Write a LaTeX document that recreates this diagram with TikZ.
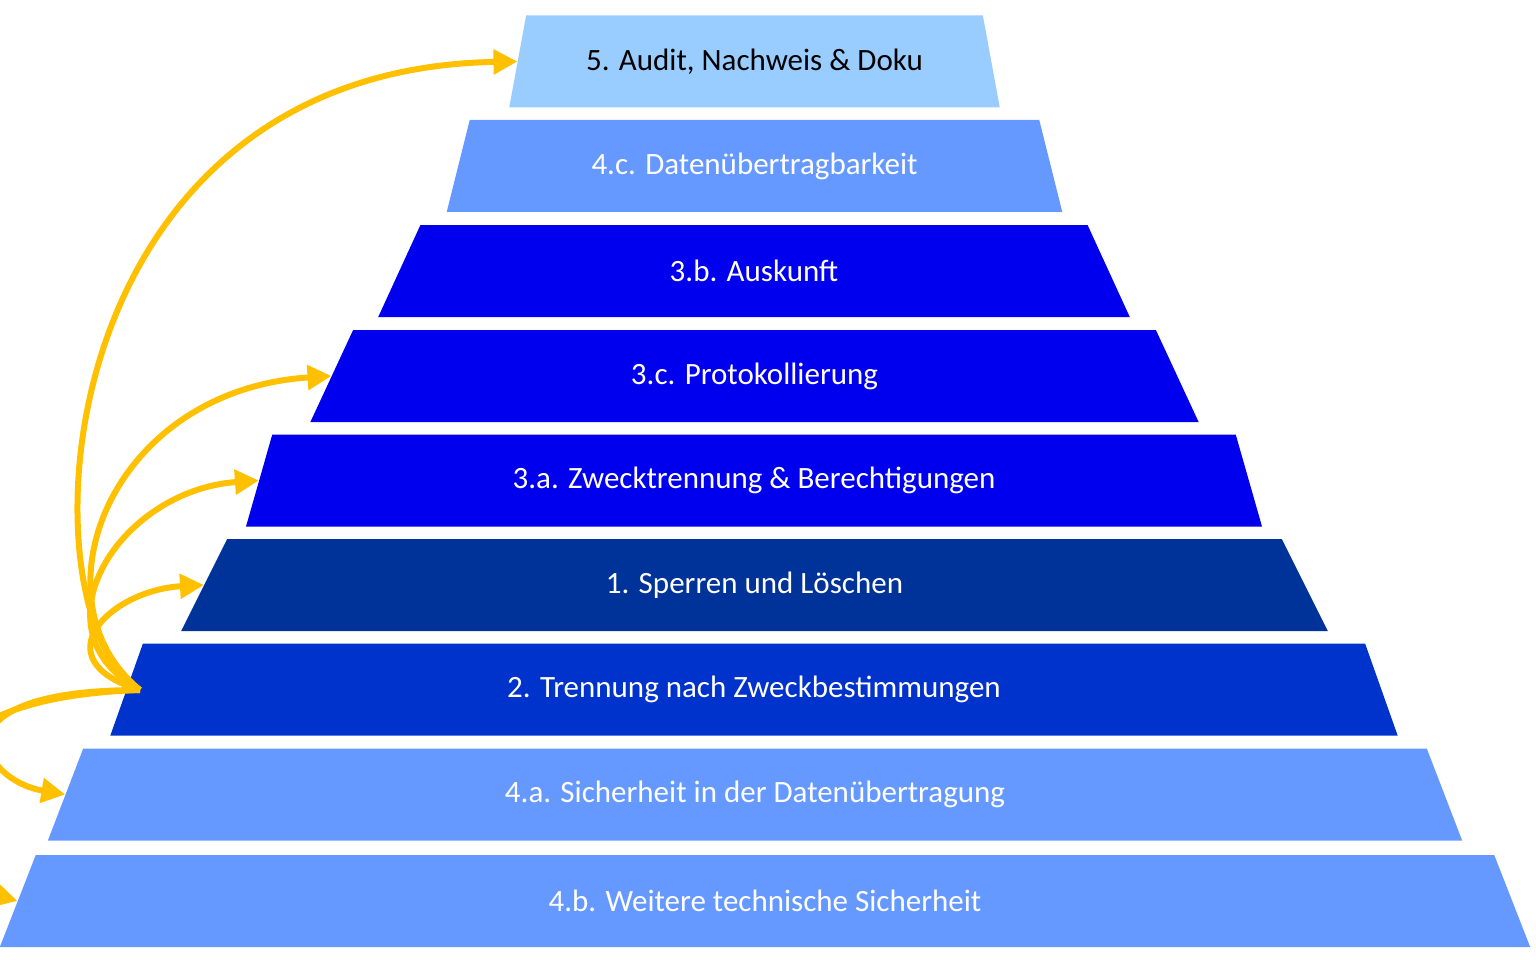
\documentclass[tikz,border=0pt]{standalone}
\usepackage{fontspec}
\setmainfont{Carlito}
\usetikzlibrary{shapes.geometric,arrows.meta}
\definecolor{lightsky}{HTML}{99CCFF}
\definecolor{midblue}{HTML}{6699FF}
\definecolor{pureblue}{HTML}{0000EE}
\definecolor{navyblue}{HTML}{003399}
\definecolor{royalblue}{HTML}{0033CC}
\definecolor{arrowgold}{HTML}{FFC000}
\tikzset{
  layer/.style={trapezium, trapezium stretches=true, trapezium angle=63.9,
    inner sep=0pt, minimum height=92pt, font=\fontsize{31}{31}\selectfont},
  link/.style={draw=arrowgold, line width=6pt,
    -{Triangle[length=24pt,width=24pt]}}
}
\begin{document}
\begin{tikzpicture}[x=1pt,y=-1pt]
  \useasboundingbox (0,0) rectangle (1536,960);
  \foreach \n/\yc/\xl/\xr/\col/\tc/\txt in {
      audit/61.5/509/1000/lightsky/black/{5. Audit, Nachweis \& Doku},
      portab/166/445/1064/midblue/white/{4.c. Datenübertragbarkeit},
      auskunft/271/378/1130/pureblue/white/{3.b. Auskunft},
      protokoll/376/309/1200/pureblue/white/{3.c. Protokollierung},
      zweck/480.5/243/1265/pureblue/white/{3.a. Zwecktrennung \& Berechtigungen},
      sperren/585/179/1330/navyblue/white/{1. Sperren und Löschen},
      trennung/689.5/110/1398/royalblue/white/{2. Trennung nach Zweckbestimmungen},
      sicher/794.5/45/1465/midblue/white/{4.a. Sicherheit in der Datenübertragung},
      weitere/901/-2/1532/midblue/white/{4.b. Weitere technische Sicherheit}}
    \node[layer, fill=\col, text=\tc, minimum width={(\xr-\xl)*1pt}]
      (\n) at ({(\xl+\xr)/2},\yc) {\txt};

  \begin{scope}
    \clip (0,0) rectangle (1536,960);
    \coordinate (src) at (140,690);
    \draw[link] (src) .. controls (20,620) and (40,70) .. (audit.left side);
    \draw[link] (src) .. controls (30,600) and (110,390) .. (protokoll.left side);
    \draw[link] (src) .. controls (30,630) and (120,490) .. (zweck.left side);
    \draw[link] (src) .. controls (40,660) and (110,590) .. (sperren.left side);
    \draw[link] (src) .. controls (-70,690) and (-20,780) .. (sicher.left side);
    \draw[link] (src) .. controls (-160,700) and (-60,880) .. (weitere.left side);
  \end{scope}
\end{tikzpicture}
\end{document}
